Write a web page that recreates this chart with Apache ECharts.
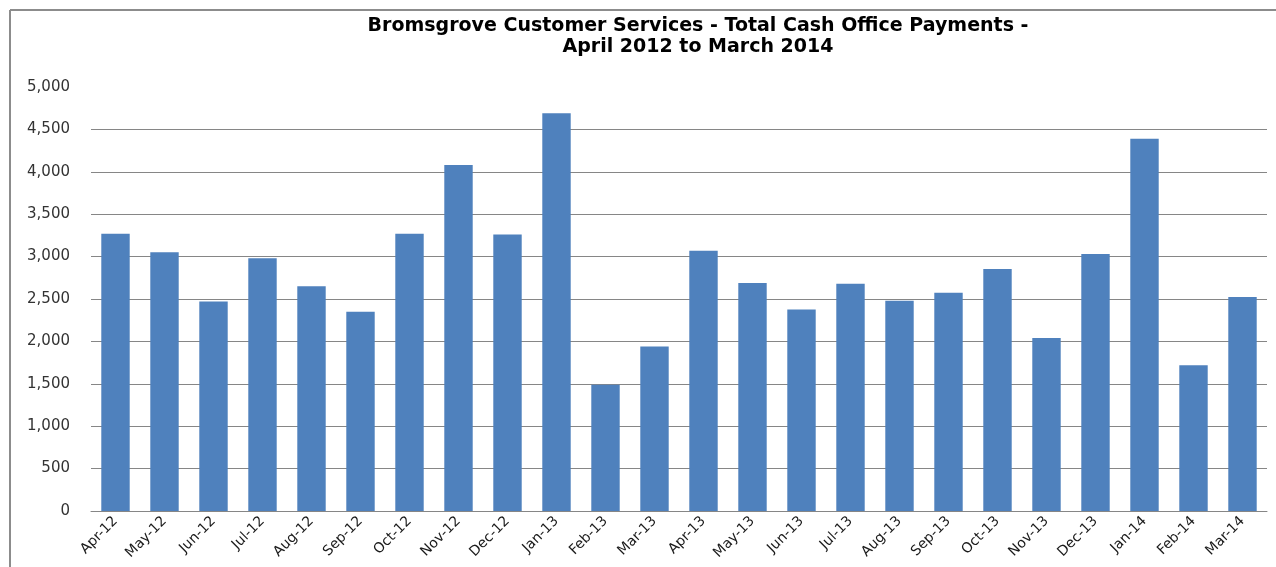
<!DOCTYPE html>
<html>
<head>
<meta charset="utf-8">
<title>Bromsgrove Customer Services - Total Cash Office Payments</title>
<script src="https://cdn.jsdelivr.net/npm/echarts@6/dist/echarts.min.js"></script>
<style>
  html, body { margin: 0; padding: 0; background: #ffffff; }
  #chart { width: 1276px; height: 567px; }
</style>
</head>
<body>
<div id="chart"></div>
<script>
// Monthly categories, April 2012 to March 2014
const months = [
  'Apr-12', 'May-12', 'Jun-12', 'Jul-12', 'Aug-12', 'Sep-12',
  'Oct-12', 'Nov-12', 'Dec-12', 'Jan-13', 'Feb-13', 'Mar-13',
  'Apr-13', 'May-13', 'Jun-13', 'Jul-13', 'Aug-13', 'Sep-13',
  'Oct-13', 'Nov-13', 'Dec-13', 'Jan-14', 'Feb-14', 'Mar-14'
];

// Total cash office payments per month
const payments = [
  3270, 3050, 2470, 2980, 2650, 2350,
  3270, 4080, 3260, 4690, 1490, 1940,
  3070, 2690, 2375, 2680, 2480, 2575,
  2855, 2040, 3030, 4390, 1720, 2525
];

// Value axis range
const yMin = 0;
const yMax = 5000;
const yStep = 500;

const titleLines = [
  'Bromsgrove Customer Services - Total Cash Office Payments -',
  'April 2012 to March 2014'
];

const chart = echarts.init(document.getElementById('chart'), null, { renderer: 'canvas' });

const gridColor = '#868686';
const frameColor = '#8c8c8c';

chart.setOption({
  animation: false,
  backgroundColor: '#ffffff',
  textStyle: { fontFamily: 'DejaVu Sans' },
  title: {
    text: titleLines.join('\n'),
    left: 693,
    textAlign: 'center',
    top: 11,
    textStyle: {
      fontFamily: 'DejaVu Sans',
      fontWeight: 'bold',
      fontSize: 19,
      lineHeight: 21,
      color: '#000000'
    }
  },
  graphic: [
    // outer chart frame: only its top and left edges fall inside the page
    {
      type: 'line',
      shape: { x1: 10, y1: 10, x2: 1276, y2: 10 },
      style: { stroke: frameColor, lineWidth: 2 },
      silent: true
    },
    {
      type: 'line',
      shape: { x1: 10, y1: 10, x2: 10, y2: 567 },
      style: { stroke: frameColor, lineWidth: 2 },
      silent: true
    }
  ],
  grid: {
    left: 91,
    right: 9,
    top: 87,
    bottom: 56,
    containLabel: false
  },
  xAxis: {
    type: 'category',
    data: months,
    axisLine: { show: true, lineStyle: { color: gridColor, width: 1 } },
    axisTick: { show: false },
    axisLabel: {
      rotate: 45,
      interval: 0,
      margin: 8,
      fontSize: 14,
      color: '#1a1a1a',
      fontFamily: 'DejaVu Sans'
    }
  },
  yAxis: {
    type: 'value',
    min: yMin,
    max: yMax,
    interval: yStep,
    axisLine: { show: false },
    axisTick: { show: false },
    axisLabel: {
      margin: 21,
      fontSize: 15,
      color: '#333333',
      fontFamily: 'DejaVu Sans',
      formatter: v => v.toLocaleString('en-GB')
    },
    splitLine: {
      show: true,
      showMaxLine: false,
      lineStyle: { color: gridColor, width: 1 }
    }
  },
  series: [{
    type: 'bar',
    data: payments,
    barCategoryGap: '42%',
    itemStyle: { color: '#4f81bd' }
  }]
});
</script>
</body>
</html>
